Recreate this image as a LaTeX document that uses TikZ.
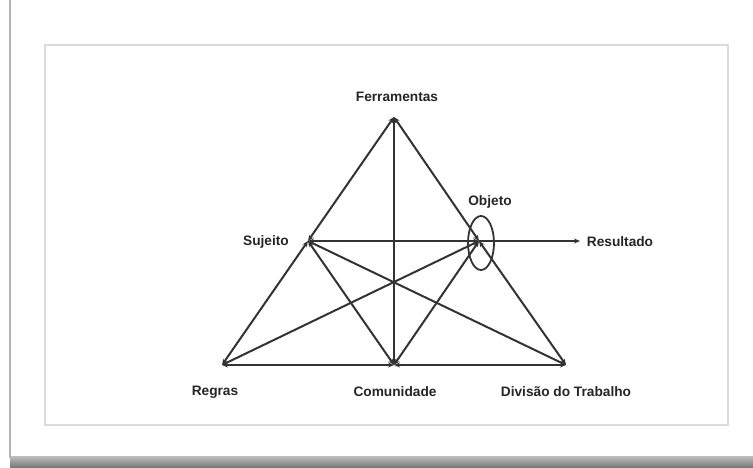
\documentclass[tikz,border=0pt]{standalone}
\usepackage{fontspec}
\setmainfont{Liberation Sans}
\usetikzlibrary{arrows.meta,shapes.geometric}
\begin{document}
\begin{tikzpicture}[x=1pt,y=-1pt,
  lbl/.style={font=\bfseries\fontsize{13.7}{15}\selectfont, inner sep=0pt, text=black!85},
  link/.style={line width=2pt, draw=black!80, {Stealth[length=6pt,width=5pt]}-{Stealth[length=6pt,width=5pt]}},
  outlink/.style={line width=2pt, draw=black!80, -{Stealth[length=6pt,width=5pt]}}]
\useasboundingbox (0,0) rectangle (753,468);
\fill[white] (0,0) rectangle (753,468);
% page edge and shadow
\fill[black!30] (8.5,0) rectangle (11,458);
\shade[top color=black!25, bottom color=black!55] (10,456) rectangle (753,468);
\fill[white] (11,0) rectangle (753,456);
% inner frame
\draw[black!14, line width=2.2pt] (45,45) rectangle (728,425);
\fill[white] (46.5,46.5) rectangle (726.5,423.5);
% points
\coordinate (F) at (394,117);
\coordinate (S) at (308,241);
\coordinate (O) at (479,241);
\coordinate (R) at (222,365);
\coordinate (C) at (394,365);
\coordinate (D) at (566,365);
\coordinate (Res) at (580,241);
% labels
\node[lbl] (lF) at (397,97) {Ferramentas};
\node[lbl] (lS) at (266,242) {Sujeito};
\node[lbl] (lO) at (490,202) {Objeto};
\node[lbl] (lRes) at (620,242) {Resultado};
\node[lbl] (lR) at (215,392) {Regras};
\node[lbl] (lC) at (395,392) {Comunidade};
\node[lbl] (lD) at (566,392) {Divisão do Trabalho};
% object ellipse
\node[ellipse, draw=black!80, line width=1.8pt, minimum width=26pt, minimum height=54pt, inner sep=0pt] (Oell) at (481,243) {};
% connectors
\draw[link] (F) -- (S);
\draw[link] (F) -- (O);
\draw[link] (F) -- (C);
\draw[link] (S) -- (R);
\draw[link] (O) -- (D);
\draw[link, line width=2.6pt] (S) -- (O);
\draw[outlink] (O) -- (Res);
\draw[link] (S) -- (C);
\draw[link] (S) -- (D);
\draw[link] (R) -- (O);
\draw[link] (C) -- (O);
\draw[link, line width=2.6pt] (R) -- (C);
\draw[link, line width=2.6pt] (C) -- (D);
\end{tikzpicture}
\end{document}
